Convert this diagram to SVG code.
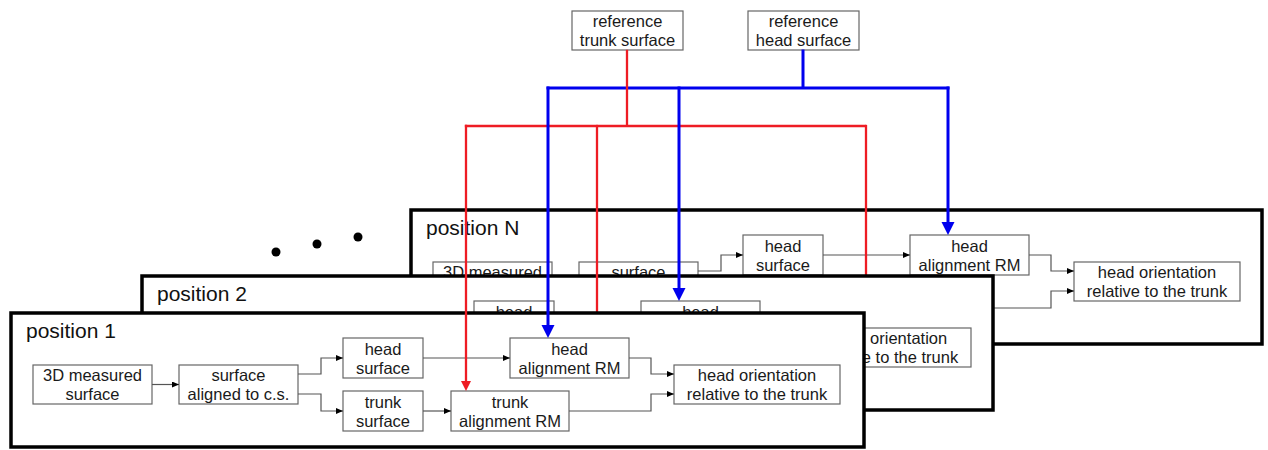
<svg xmlns="http://www.w3.org/2000/svg" width="1268" height="450" viewBox="0 0 1268 450">
<defs>
<style>
.panel{fill:#fff;stroke:#000;stroke-width:3.5}
.box{fill:#fff;stroke:#666;stroke-width:1.2}
.t{font-family:"Liberation Sans",Arial,sans-serif;font-size:16.5px;fill:#1a1a1a;text-anchor:middle}
.title{font-family:"Liberation Sans",Arial,sans-serif;font-size:21px;fill:#111}
.c{fill:none;stroke:#555;stroke-width:1.2;marker-end:url(#ah)}
.red{fill:none;stroke:#ee1c24;stroke-width:2.3;stroke-linecap:square}
.blue{fill:none;stroke:#0000ee;stroke-width:3;stroke-linecap:square}
.ra{marker-end:url(#ar)}
.ba{marker-end:url(#ab)}
</style>
<marker id="ah" markerUnits="userSpaceOnUse" markerWidth="8" markerHeight="8" refX="7" refY="3" orient="auto"><path d="M0,0 L7,3 L0,6z" fill="#000"/></marker>
<marker id="ab" markerUnits="userSpaceOnUse" markerWidth="14" markerHeight="14" refX="0" refY="6.5" orient="auto"><path d="M0,0 L13,6.5 L0,13z" fill="#0000ee"/></marker>
<marker id="ar" markerUnits="userSpaceOnUse" markerWidth="11" markerHeight="11" refX="0" refY="5" orient="auto"><path d="M0,0 L10,5 L0,10z" fill="#ee1c24"/></marker>
</defs>

<g id="ref-trunk"><rect class="box" x="572" y="11" width="111" height="39"/><text class="t" x="627.5" y="27">reference</text><text class="t" x="627.5" y="45.5">trunk surface</text></g>
<g id="ref-head"><rect class="box" x="748" y="11" width="111" height="39"/><text class="t" x="803.5" y="27">reference</text><text class="t" x="803.5" y="45.5">head surface</text></g>

<g id="buses">
<path class="blue" d="M803 51 V88 M548 88 H948"/>
<path class="red" d="M627 51 V126 M466 126 H865"/>
</g>

<g id="posN" transform="translate(400,-103)">
<rect class="panel" x="11" y="313" width="851" height="134"/>
<text class="title" x="26" y="338">position N</text>
<g id="N-measured"><rect class="box" x="33" y="365" width="119" height="39"/><text class="t" x="92.5" y="381">3D measured</text></g>
<g id="N-aligned"><rect class="box" x="179" y="365" width="119" height="39"/><text class="t" x="238.5" y="381">surface</text></g>
<g id="N-headsurf"><rect class="box" x="343" y="338" width="80" height="40"/><text class="t" x="383" y="355">head</text><text class="t" x="383" y="373.5">surface</text></g>
<g id="N-trunksurf"><rect class="box" x="343" y="391" width="80" height="40"/></g>
<g id="N-headalign"><rect class="box" x="510" y="338" width="119" height="40"/><text class="t" x="569.5" y="355">head</text><text class="t" x="569.5" y="373.5">alignment RM</text></g>
<g id="N-trunkalign"><rect class="box" x="451" y="391" width="118" height="40"/></g>
<g id="N-orient"><rect class="box" x="674" y="365" width="166" height="39"/><text class="t" x="757" y="381">head orientation</text><text class="t" x="757" y="400">relative to the trunk</text></g>
<g id="N-connectors">
<path class="c" d="M152 384.5 H179"/>
<path class="c" d="M298 374 H321 V358 H343"/>
<path class="c" d="M298 394 H321 V411 H343"/>
<path class="c" d="M423 358 H510"/>
<path class="c" d="M423 411 H451"/>
<path class="c" d="M629 358 H651 V374 H674"/>
<path class="c" d="M569 411 H651 V394 H674"/>
</g>
</g>

<g id="links-N">
<path class="red ra" d="M866 126 V278"/>
<path class="blue ba" d="M948 88 V222"/>
</g>

<g id="pos2" transform="translate(131,-37)">
<rect class="panel" x="11" y="313" width="851" height="134"/>
<text class="title" x="26" y="338">position 2</text>
<g id="P2-measured"><rect class="box" x="33" y="365" width="119" height="39"/></g>
<g id="P2-aligned"><rect class="box" x="179" y="365" width="119" height="39"/></g>
<g id="P2-headsurf"><rect class="box" x="343" y="338" width="80" height="40"/><text class="t" x="383" y="355">head</text></g>
<g id="P2-trunksurf"><rect class="box" x="343" y="391" width="80" height="40"/></g>
<g id="P2-headalign"><rect class="box" x="510" y="338" width="119" height="40"/><text class="t" x="569.5" y="355">head</text></g>
<g id="P2-trunkalign"><rect class="box" x="451" y="391" width="118" height="40"/></g>
<g id="P2-orient"><rect class="box" x="674" y="365" width="166" height="39"/><text class="t" x="757" y="381">head orientation</text><text class="t" x="757" y="400">relative to the trunk</text></g>
<g id="P2-connectors">
<path class="c" d="M152 384.5 H179"/>
<path class="c" d="M298 374 H321 V358 H343"/>
<path class="c" d="M298 394 H321 V411 H343"/>
<path class="c" d="M423 358 H510"/>
<path class="c" d="M423 411 H451"/>
<path class="c" d="M629 358 H651 V374 H674"/>
<path class="c" d="M569 411 H651 V394 H674"/>
</g>
</g>

<g id="links-2">
<path class="red ra" d="M597 126 V344"/>
<path class="blue ba" d="M679 88 V288"/>
</g>

<g id="pos1">
<rect class="panel" x="11" y="313" width="853" height="134"/>
<text class="title" x="26" y="338">position 1</text>
<g id="P1-measured"><rect class="box" x="33" y="365" width="119" height="39"/><text class="t" x="92.5" y="381">3D measured</text><text class="t" x="92.5" y="400">surface</text></g>
<g id="P1-aligned"><rect class="box" x="179" y="365" width="119" height="39"/><text class="t" x="238.5" y="381">surface</text><text class="t" x="238.5" y="400">aligned to c.s.</text></g>
<g id="P1-headsurf"><rect class="box" x="343" y="338" width="80" height="40"/><text class="t" x="383" y="355">head</text><text class="t" x="383" y="373.5">surface</text></g>
<g id="P1-trunksurf"><rect class="box" x="343" y="391" width="80" height="40"/><text class="t" x="383" y="408">trunk</text><text class="t" x="383" y="426.5">surface</text></g>
<g id="P1-headalign"><rect class="box" x="510" y="338" width="119" height="40"/><text class="t" x="569.5" y="355">head</text><text class="t" x="569.5" y="373.5">alignment RM</text></g>
<g id="P1-trunkalign"><rect class="box" x="451" y="391" width="118" height="40"/><text class="t" x="510" y="408">trunk</text><text class="t" x="510" y="426.5">alignment RM</text></g>
<g id="P1-orient"><rect class="box" x="674" y="365" width="166" height="39"/><text class="t" x="757" y="381">head orientation</text><text class="t" x="757" y="400">relative to the trunk</text></g>
<g id="P1-connectors">
<path class="c" d="M152 384.5 H179"/>
<path class="c" d="M298 374 H321 V358 H343"/>
<path class="c" d="M298 394 H321 V411 H343"/>
<path class="c" d="M423 358 H510"/>
<path class="c" d="M423 411 H451"/>
<path class="c" d="M629 358 H651 V374 H674"/>
<path class="c" d="M569 411 H651 V394 H674"/>
</g>
</g>

<g id="links-1">
<path class="red ra" d="M466 126 V381"/>
<path class="blue ba" d="M548 88 V325"/>
</g>

<g id="ellipsis" fill="#000">
<circle cx="276" cy="252" r="4.5"/>
<circle cx="317" cy="244" r="4.5"/>
<circle cx="358" cy="237" r="4.5"/>
</g>
</svg>
